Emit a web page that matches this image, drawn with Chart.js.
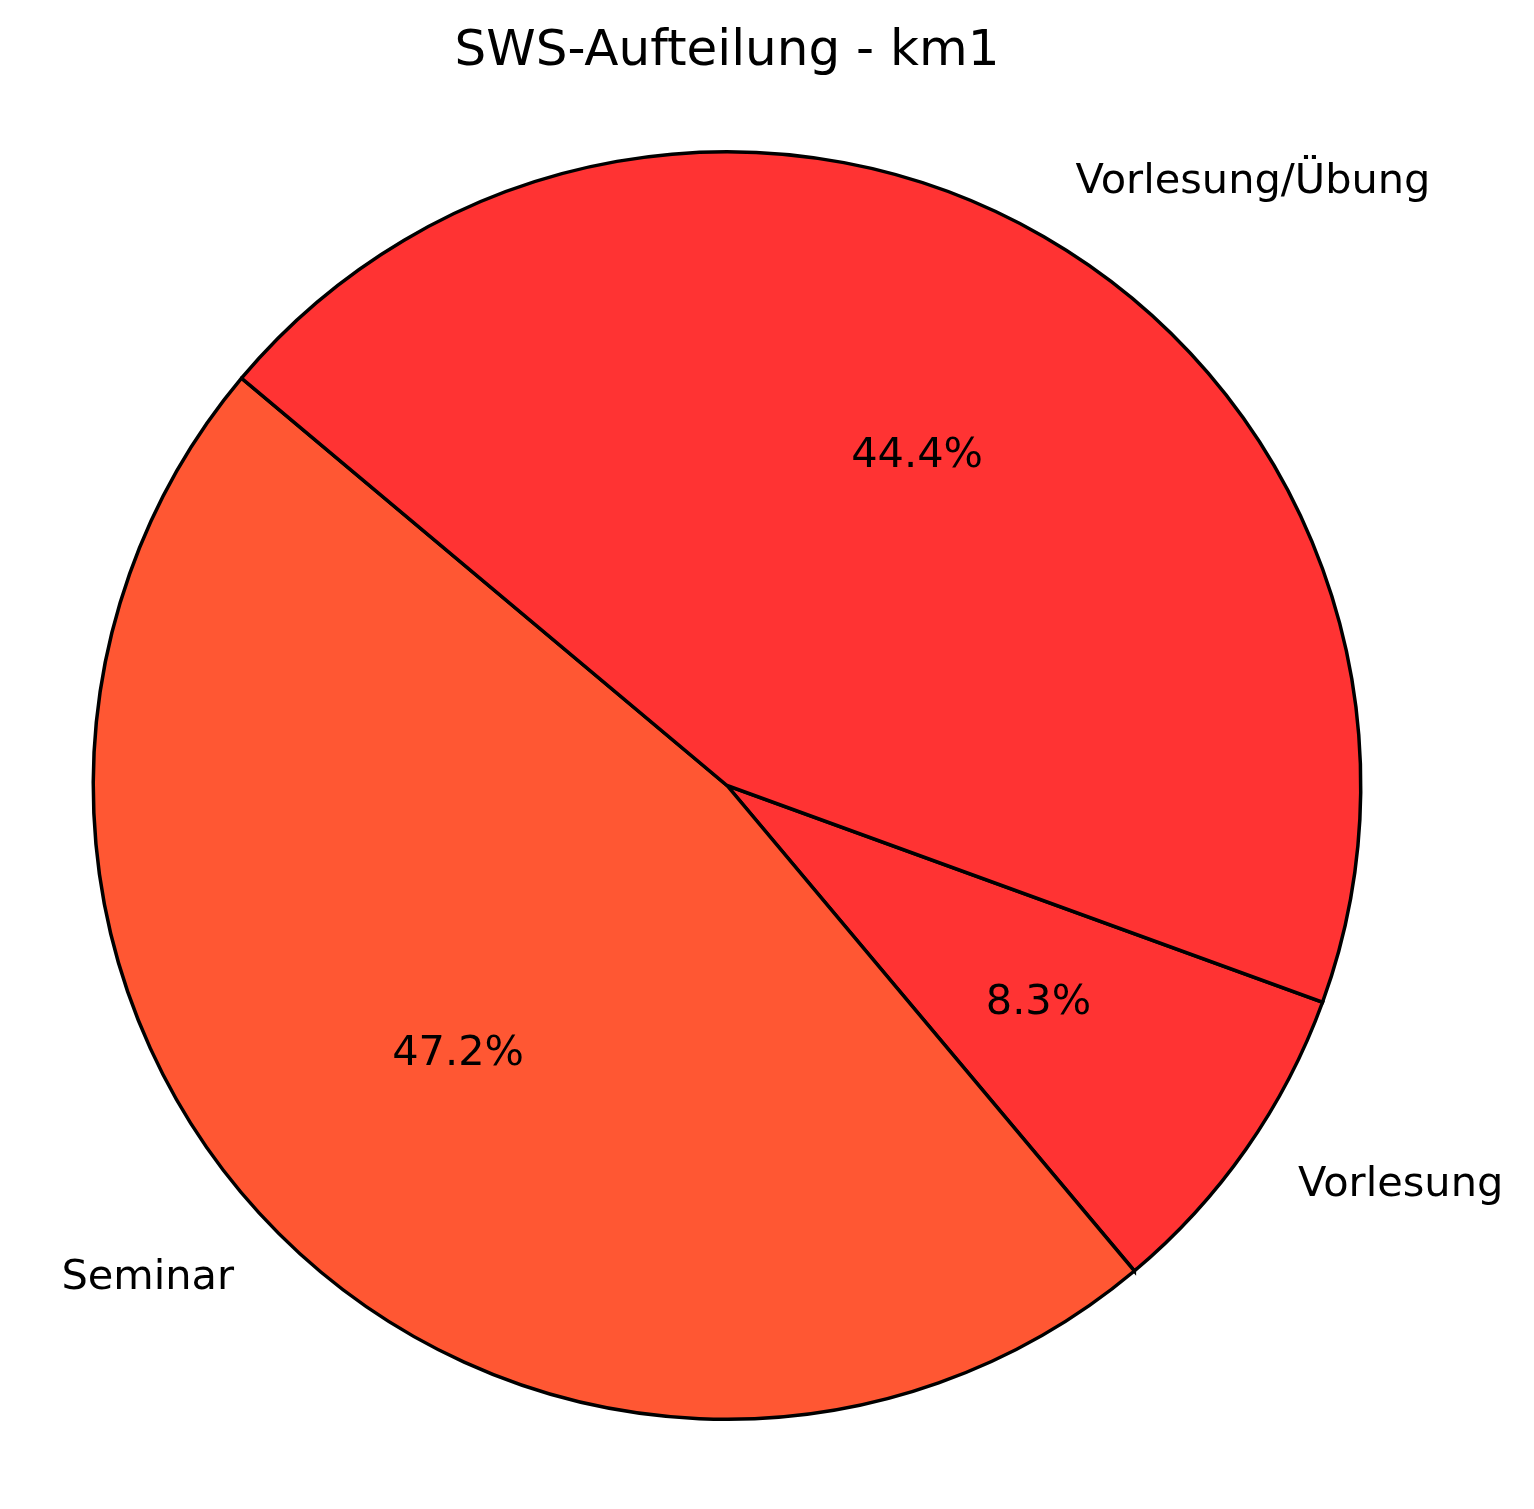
<!DOCTYPE html>
<html lang="de">
<head>
<meta charset="UTF-8">
<title>SWS-Aufteilung - km1</title>
<script src="https://cdn.jsdelivr.net/npm/chart.js"></script>
<style>
  html, body { margin: 0; padding: 0; background: #fff; }
  #wrap { width: 1534px; height: 1509px; position: relative; }
</style>
</head>
<body>
<div id="wrap"><canvas id="myChart"></canvas></div>
<script>
// Daten (SWS je Veranstaltungsart), im Uhrzeigersinn ab 20° unter der Horizontalen
const labels = ['Vorlesung', 'Seminar', 'Vorlesung/Übung'];
const sws = [3, 17, 16];
const colors = ['#FF3333', '#FF5733', '#FF3333'];
const title = 'SWS-Aufteilung - km1';

const FONT = '"DejaVu Sans", sans-serif';

// Beschriftungen wie bei matplotlib: Label bei 1.1 r, Prozent bei 0.6 r
const pieText = {
  id: 'pieText',
  afterDraw(chart) {
    const ctx = chart.ctx;
    const arcs = chart.getDatasetMeta(0).data;
    const total = sws.reduce((a, b) => a + b, 0);
    ctx.save();
    ctx.fillStyle = '#000';
    arcs.forEach((arc, i) => {
      const mid = (arc.startAngle + arc.endAngle) / 2;
      const r = arc.outerRadius;
      const cx = Math.cos(mid), cy = Math.sin(mid);
      ctx.font = '41.5px ' + FONT;
      ctx.textBaseline = 'middle';
      ctx.textAlign = cx >= 0 ? 'left' : 'right';
      ctx.fillText(labels[i], arc.x + 1.1 * r * cx, arc.y + 1.1 * r * cy);
      ctx.textAlign = 'center';
      const pct = (sws[i] / total * 100).toFixed(1) + '%';
      ctx.fillText(pct, arc.x + 0.6 * r * cx, arc.y + 0.6 * r * cy);
    });
    ctx.font = '50px ' + FONT;
    ctx.textAlign = 'center';
    ctx.textBaseline = 'middle';
    ctx.fillText(title, 727, 52);
    ctx.restore();
  }
};

new Chart(document.getElementById('myChart'), {
  type: 'pie',
  data: {
    labels: labels,
    datasets: [{
      data: sws,
      backgroundColor: colors,
      borderColor: '#000',
      borderWidth: 3.5,
      borderJoinStyle: 'miter'
    }]
  },
  options: {
    responsive: true,
    maintainAspectRatio: false,
    animation: false,
    rotation: 110,
    layout: { padding: { left: 91, right: 171, top: 150, bottom: 88 } },
    plugins: {
      legend: { display: false },
      tooltip: { enabled: false },
      title: { display: false }
    }
  },
  plugins: [pieText]
});
</script>
</body>
</html>
